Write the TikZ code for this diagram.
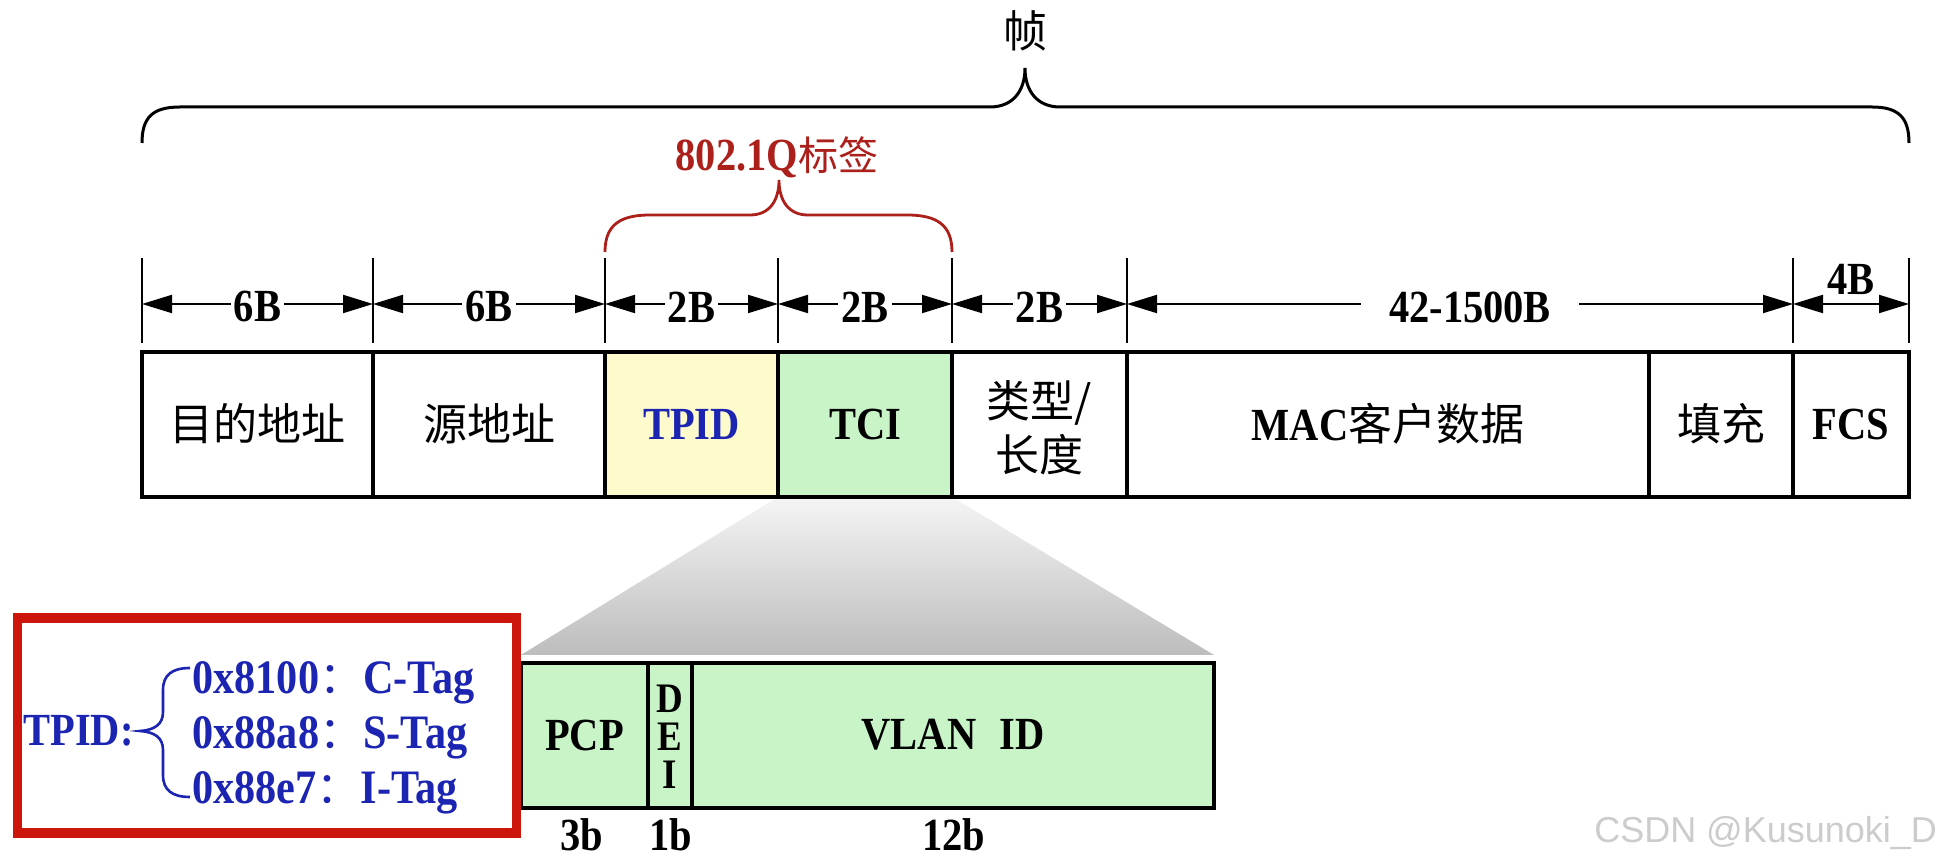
\documentclass[tikz,border=0pt]{standalone}
\usepackage{fontspec}
\setmainfont{Liberation Serif}[FakeStretch=0.88]
\setsansfont{Liberation Sans}
\newfontfamily\cjk{Noto Sans CJK SC}
\usetikzlibrary{arrows.meta}
\definecolor{tagred}{RGB}{172,32,28}
\definecolor{boxred}{RGB}{204,22,12}
\definecolor{tpidblue}{RGB}{28,36,178}
\definecolor{tpidfill}{RGB}{253,250,204}
\definecolor{tcifill}{RGB}{200,244,200}

\begin{document}
\begin{tikzpicture}[x=0.5pt, y=-0.5pt,
  cell/.style={draw, line width=1.7pt},
  dim/.style={{Triangle[length=15pt,width=9pt]}-{Triangle[length=15pt,width=9pt]}, line width=1pt},
  lat/.style={font=\fontsize{23}{27}\selectfont\bfseries},
  zh/.style={font=\fontsize{22}{27}\selectfont\cjk},
  gap/.style={lat, fill=white, inner xsep=1.5pt, inner ysep=0pt, yshift=-1.5pt},
  letter/.style={font=\fontsize{21}{21}\selectfont\bfseries, inner sep=0pt},
  tpidline/.style={font=\fontsize{24}{28}\selectfont\bfseries, text=tpidblue, anchor=west, inner sep=0pt}]
  \fill[white] (0,0) rectangle (1940,860);
  \useasboundingbox (0,0) rectangle (1940,860);

  \node[zh] (frame) at (1025,31) {帧};
  \draw[line width=1.5pt] (142,143) .. controls (142,118) and (152,107) .. (180,107) -- (990,107)
    .. controls (1012,107) and (1025,92) .. (1025,68) .. controls (1025,92) and (1038,107) .. (1060,107)
    -- (1872,107) .. controls (1899,107) and (1909,118) .. (1909,143);

  \node[lat, text=tagred] (tag) at (777,157) {802.1Q{\cjk\mdseries\fontsize{20}{24}\selectfont 标签}};
  \draw[tagred, line width=1.4pt] (605,252) .. controls (605,225) and (620,215) .. (650,215) -- (750,215)
    .. controls (770,215) and (779,200) .. (779,180) .. controls (779,200) and (788,215) .. (808,215)
    -- (907,215) .. controls (937,215) and (952,225) .. (952,252);

  \coordinate (t0) at (142,304);
  \coordinate (t1) at (373,304);
  \coordinate (t2) at (605,304);
  \coordinate (t3) at (778,304);
  \coordinate (t4) at (952,304);
  \coordinate (t5) at (1127,304);
  \coordinate (t6) at (1793,304);
  \coordinate (t7) at (1909,304);
  \foreach \i in {0,...,7}
    \draw[line width=0.9pt] (t\i) ++(0,-46) -- ++(0,85);
  \draw[dim] (t0) -- node[gap] {6B} (t1);
  \draw[dim] (t1) -- node[gap] {6B} (t2);
  \draw[dim] (t2) -- node[gap] {2B} (t3);
  \draw[dim] (t3) -- node[gap] {2B} (t4);
  \draw[dim] (t4) -- node[gap] {2B} (t5);
  \draw[dim] (t5) -- node[gap, inner xsep=14pt, xshift=5pt] {42-1500B} (t6);
  \draw[dim] (t6) -- node[lat, above=4pt, inner sep=0pt] {4B} (t7);

  \shade[top color=gray!8, bottom color=gray!52] (778,497) -- (952,497) -- (1214,655) -- (521,655) -- cycle;

  \draw[cell] (142,352) rectangle (373,497);
  \draw[cell] (373,352) rectangle (605,497);
  \draw[cell, fill=tpidfill] (605,352) rectangle (778,497);
  \draw[cell, fill=tcifill] (778,352) rectangle (952,497);
  \draw[cell] (952,352) rectangle (1127,497);
  \draw[cell] (1127,352) rectangle (1649,497);
  \draw[cell] (1649,352) rectangle (1793,497);
  \draw[cell] (1793,352) rectangle (1909,497);
  \node[zh] (dst) at (257.5,424) {目的地址};
  \node[zh] (src) at (489,424) {源地址};
  \node[lat, text=tpidblue] (tpid) at (691.5,424) {TPID};
  \node[lat] (tci) at (865,424) {TCI};
  \node[zh, align=center] (type) at (1039.5,428) {类型/\\长度};
  \node[lat] (mac) at (1388,424) {MAC{\cjk\mdseries\fontsize{22}{27}\selectfont 客户数据}};
  \node[zh] (pad) at (1721,424) {填充};
  \node[lat] (fcs) at (1851,424) {FCS};

  \draw[cell, fill=tcifill] (521,663) rectangle (1214,808);
  \draw[cell] (648,663) -- (648,808);
  \draw[cell] (692,663) -- (692,808);
  \node[lat] (pcp) at (584.5,735) {PCP};
  \node[letter] (deid) at (670,699) {D};
  \node[letter] (deie) at (670,737) {E};
  \node[letter] (deii) at (670,775) {I};
  \node[lat] (vid) at (953,735) {VLAN\hspace{0.5em}ID};
  \node[lat] (pcpw) at (582,835) {3b};
  \node[lat] (deiw) at (671,835) {1b};
  \node[lat] (vidw) at (954,835) {12b};

  \draw[boxred, line width=4.8pt, fill=white] (17.5,618) rectangle (516.5,833);
  \node[lat, text=tpidblue, anchor=east, inner sep=0pt] (tpidkey) at (134,731) {TPID:};
  \draw[tpidblue, line width=1.3pt] (190,668) .. controls (172,668) and (163,675) .. (163,690) -- (163,712)
    .. controls (163,724) and (155,730) .. (140,731) .. controls (155,732) and (163,738) .. (163,750)
    -- (163,775) .. controls (163,790) and (172,797) .. (190,797);
  \node[tpidline] (ctag) at (192,683) {0x8100{\cjk\mdseries\fontsize{22}{26}\selectfont ：}C-Tag};
  \node[tpidline] (stag) at (192,738) {0x88a8{\cjk\mdseries\fontsize{22}{26}\selectfont ：}S-Tag};
  \node[tpidline] (itag) at (192,793) {0x88e7{\cjk\mdseries\fontsize{22}{26}\selectfont ：}I-Tag};

  \node[anchor=east, font=\sffamily\fontsize{18}{20}\selectfont, text=gray!40] (mark) at (1944,833) {CSDN @Kusunoki\_D};
\end{tikzpicture}
\end{document}
